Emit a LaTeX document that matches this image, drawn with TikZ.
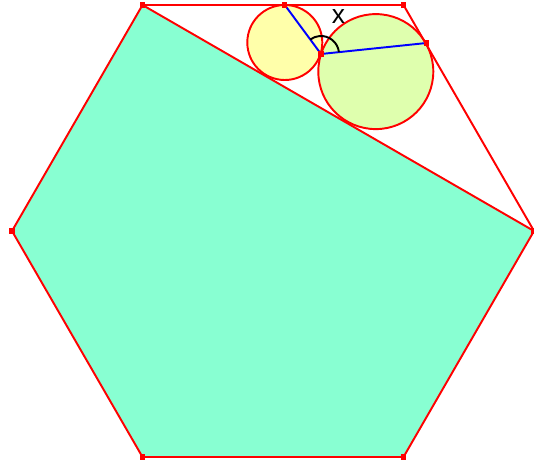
\documentclass[tikz,border=0pt]{standalone}
\usepackage{fontspec}
\setmainfont{Liberation Sans}
\usetikzlibrary{calc,angles}
\definecolor{edgered} {HTML}{FF0000}
\definecolor{segblue} {HTML}{0000FF}
\definecolor{mintfill}{HTML}{88FFD2}
\definecolor{lemon}   {HTML}{FFFFAA}
\definecolor{lime}    {HTML}{DFFFAE}
\tikzset{
  % --- shapes
  side/.style  = {draw=edgered, line width=1.1pt, line join=round},
  ring/.style  = {draw=edgered, line width=1.1pt},
  seg/.style   = {draw=segblue, line width=1.1pt},
  dot/.style   = {rectangle, fill=edgered, inner sep=0pt, minimum size=3pt},
  lbl/.style   = {font=\fontsize{15}{15}\selectfont, text=black},
}

\begin{document}
\begin{tikzpicture}[x=0.02cm,y=0.02cm]
  \useasboundingbox (0,0) rectangle (534,-463);

  % hexagon corners
  \coordinate (A) at (142.5,-5);
  \coordinate (B) at (403.5,-5);
  \coordinate (C) at (534,-231);
  \coordinate (D) at (403.5,-457);
  \coordinate (E) at (142.5,-457);
  \coordinate (F) at (12,-231);
  % circle centres + tangent points
  \coordinate (O1) at (284.8,-42.5);
  \coordinate (O2) at (375.8,-71.6);
  \coordinate (T1) at (284.8,-5);
  \coordinate (P)  at (321,-54);
  \coordinate (T2) at (426.5,-43);

  % cut hexagon
  \fill[mintfill] (A) -- (C) -- (D) -- (E) -- (F) -- cycle;

  % circles
  \draw[ring, fill=lemon] (O1) circle[radius=37.5];
  \draw[ring, fill=lime]  (O2) circle[radius=57.5];

  % outline + diagonal
  \draw[side] (A) -- (B) -- (C) -- (D) -- (E) -- (F) -- cycle;
  \draw[side] (A) -- (C);

  % radii to tangent points
  \draw[seg] (T1) -- (P) -- (T2);
  \pic[draw=black, line width=1.1pt, angle radius=0.36cm] {angle = T2--P--T1};
  \node[lbl] (xlab) at (338.5,-17) {x};

  % markers
  \foreach \p in {A,B,C,D,E,F,T1,P,T2}
    \node[dot] (m\p) at (\p) {};
\end{tikzpicture}
\end{document}
